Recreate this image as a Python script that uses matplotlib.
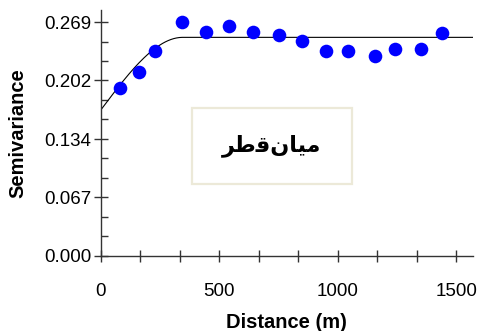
import numpy as np
import matplotlib
matplotlib.use('Agg')
import matplotlib.pyplot as plt
from matplotlib.patches import Rectangle
from matplotlib.ticker import FixedLocator, MultipleLocator

distance = [80, 159, 228, 340, 444, 539, 640, 752, 847, 949, 1045, 1155, 1243, 1353, 1440]
semivar = [0.193, 0.211, 0.236, 0.269, 0.258, 0.265, 0.258, 0.254, 0.247, 0.236,
           0.236, 0.230, 0.238, 0.238, 0.256]

# fitted spherical model
nugget = 0.168
sill = 0.2514
rng = 345.0

yticks = [0.000, 0.067, 0.134, 0.202, 0.269]
ytick_labels = ['0.000', '0.067', '0.134', '0.202', '0.269']
xticks = [0, 500, 1000, 1500]

# title text in visual order (arabic presentation forms)
label_txt = '\uFEAE\uFEC3\uFED7\uFEE5\uFE8E\uFBFF\uFEE3'


def spherical(h):
    h = np.asarray(h, dtype=float)
    r = np.minimum(h / rng, 1.0)
    return nugget + (sill - nugget) * (1.5 * r - 0.5 * r ** 3)


plt.rcParams['font.family'] = ['Liberation Sans', 'DejaVu Sans']

fig = plt.figure(figsize=(4.82, 3.31), dpi=100)
ax = fig.add_axes([0.2095, 0.228, 0.7715, 0.742])

hh = np.linspace(0, 1570, 400)
ax.plot(hh, spherical(hh), color='black', lw=0.8)
ax.plot(distance, semivar, 'o', color='#0000FF', ms=9.8, mec='none')

ax.set_xlim(0, 1570)
ax.set_ylim(0, 0.283)

for s in ['top', 'right']:
    ax.spines[s].set_visible(False)
for s in ['left', 'bottom']:
    ax.spines[s].set_color('#333333')
    ax.spines[s].set_linewidth(1.0)

ax.yaxis.set_major_locator(FixedLocator(yticks))
ax.set_yticklabels(ytick_labels)
ax.yaxis.set_minor_locator(FixedLocator([0.269 / 12 * i for i in range(13) if i % 3]))
ax.xaxis.set_major_locator(FixedLocator(xticks))
ax.xaxis.set_minor_locator(MultipleLocator(500 / 3))

ax.tick_params(axis='y', which='major', direction='inout', length=10, width=1,
               color='#333333', labelsize=13.5, pad=2)
ax.tick_params(axis='y', which='minor', direction='in', length=5, width=1, color='#333333')
ax.tick_params(axis='x', which='both', direction='inout', length=8, width=1,
               color='#333333', labelsize=13.5, pad=16)

ax.set_xlabel('Distance (m)', fontsize=14.5, fontweight='bold', labelpad=9)
ax.set_ylabel('Semivariance', fontsize=14.5, fontweight='bold', labelpad=12)

ax.add_patch(Rectangle((0.2446, 0.291), 0.4304, 0.31, transform=ax.transAxes,
                       facecolor='white', edgecolor='#ECE9D8', lw=1.6, zorder=3))
ax.text(0.46, 0.446, label_txt, transform=ax.transAxes, ha='center', va='center',
        fontsize=16, fontweight='bold', family=['DejaVu Sans'], zorder=4)

fig.savefig('out.png', dpi=100)
